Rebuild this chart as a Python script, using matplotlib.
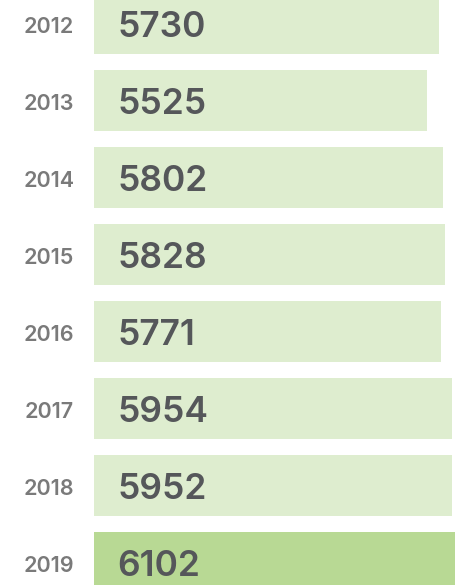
import matplotlib.pyplot as plt

years = ['2012', '2013', '2014', '2015', '2016', '2017', '2018', '2019']
values = [5730, 5525, 5802, 5828, 5771, 5954, 5952, 6102]
highlight_year = '2019'

light_green = '#deedcf'
dark_green = '#b8d994'

fig = plt.figure(figsize=(4.55, 5.85), dpi=100)
ax = fig.add_axes([94 / 455, 0, 1 - 94 / 455, 1])

positions = list(range(len(years)))
colors = [dark_green if y == highlight_year else light_green for y in years]
ax.barh(positions, values, height=0.79, color=colors, align='center')

for pos, year, val in zip(positions, years, values):
    ax.text(390, pos + 0.05, str(val), ha='left', va='center', fontsize=25.5,
            fontweight='semibold', color='#55575a', family='Inter')
    ax.text(-330, pos + 0.04, year, ha='right', va='center', fontsize=15.5,
            fontweight='semibold', color='#7a7a7a', family='Inter', clip_on=False)

ax.set_xlim(0, 5997)
ax.set_ylim(7.292, -0.305)
ax.axis('off')

fig.savefig('out.png', dpi=100)
